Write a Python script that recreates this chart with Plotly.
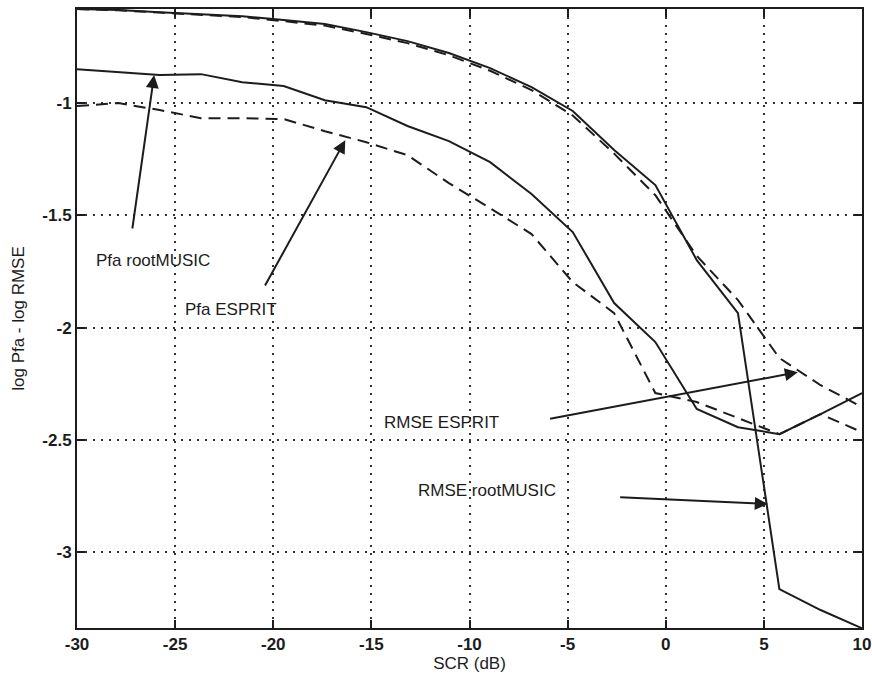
import plotly.graph_objects as go

# SCR values (dB) at which the curves were sampled
scr = [-30, -27.89, -25.79, -23.68, -21.58, -19.47, -17.37, -15.26, -13.16, -11.05,
       -8.95, -6.84, -4.74, -2.63, -0.53, 1.58, 3.68, 5.79, 7.89, 10]

rmse_rootmusic = [-0.581, -0.586, -0.595, -0.604, -0.613, -0.630, -0.648, -0.684, -0.724, -0.777,
                  -0.844, -0.929, -1.035, -1.209, -1.365, -1.699, -1.935, -3.164, -3.257, -3.338]
rmse_esprit = [-0.581, -0.587, -0.597, -0.607, -0.617, -0.635, -0.655, -0.692, -0.733, -0.787,
               -0.856, -0.942, -1.055, -1.225, -1.410, -1.680, -1.877, -2.135, -2.256, -2.353]
pfa_rootmusic = [-0.849, -0.862, -0.875, -0.871, -0.907, -0.924, -0.987, -1.018, -1.102, -1.169,
                 -1.263, -1.405, -1.574, -1.890, -2.064, -2.362, -2.443, -2.474, -2.385, -2.291]
pfa_esprit = [-1.013, -1.000, -1.031, -1.067, -1.067, -1.071, -1.125, -1.174, -1.232, -1.356,
              -1.468, -1.583, -1.797, -1.935, -2.291, -2.331, -2.402, -2.474, -2.385, -2.465]

x_ticks = [-30, -25, -20, -15, -10, -5, 0, 5, 10]
x_ticktext = ["-30", "-25", "-20", "-15", "-10", "-5", "0", "5", "10"]
y_ticks = [-3, -2.5, -2, -1.5, -1]
y_ticktext = ["-3", "-2.5", "-2", "-1.5", "-1"]

# label text, label position, arrow tail, arrow tip
labels = [
    ("Pfa rootMUSIC", (-26.12, -1.699), (-27.19, -1.565), (-26.07, -0.875)),
    ("Pfa ESPRIT", (-22.14, -1.917), (-20.46, -1.819), (-16.33, -1.165)),
    ("RMSE ESPRIT", (-11.43, -2.420), (-5.97, -2.407), (6.73, -2.198)),
    ("RMSE rootMUSIC", (-9.13, -2.723), (-2.40, -2.754), (5.20, -2.785)),
]

ink = "#1c1c1c"
font = "Liberation Sans, Arial, sans-serif"

fig = go.Figure()
series = [
    (rmse_rootmusic, "solid", "RMSE rootMUSIC"),
    (rmse_esprit, "12px,7px", "RMSE ESPRIT"),
    (pfa_rootmusic, "solid", "Pfa rootMUSIC"),
    (pfa_esprit, "12px,7px", "Pfa ESPRIT"),
]
for ys, dash, name in series:
    fig.add_trace(go.Scatter(
        x=scr, y=ys, mode="lines", name=name,
        line=dict(color=ink, width=2, dash=dash),
    ))

for text, pos, tail, tip in labels:
    fig.add_annotation(
        x=pos[0], y=pos[1], text=text, showarrow=False,
        font=dict(family=font, size=17, color=ink),
    )
    fig.add_annotation(
        x=tip[0], y=tip[1], ax=tail[0], ay=tail[1],
        axref="x", ayref="y", xref="x", yref="y",
        text="", showarrow=True,
        arrowhead=2, arrowsize=1.3, arrowwidth=2, arrowcolor=ink,
    )

axis_style = dict(
    showline=True, linecolor=ink, linewidth=2, mirror="ticks",
    ticks="inside", ticklen=8, tickwidth=2, tickcolor=ink,
    showgrid=True, gridcolor="#333333", gridwidth=1.5, griddash="2px,6px",
    zeroline=False, automargin=False,
    tickfont=dict(family=font, size=17, color=ink, weight="bold"),
)

fig.update_layout(
    width=872, height=675,
    margin=dict(l=77, r=10, t=9, b=47),
    paper_bgcolor="white", plot_bgcolor="white",
    showlegend=False,
    xaxis=dict(range=[-30, 10], tickvals=x_ticks, ticktext=x_ticktext,
               title=dict(text="SCR (dB)", standoff=0,
                          font=dict(family=font, size=17, color=ink)),
               **axis_style),
    yaxis=dict(range=[-3.337, -0.581], tickvals=y_ticks, ticktext=y_ticktext,
               title=dict(text="log Pfa - log RMSE", standoff=13,
                          font=dict(family=font, size=17, color=ink)),
               **axis_style),
)

fig.write_html("out.html", config={"displayModeBar": False},
               post_script="document.body.style.margin='0';")
